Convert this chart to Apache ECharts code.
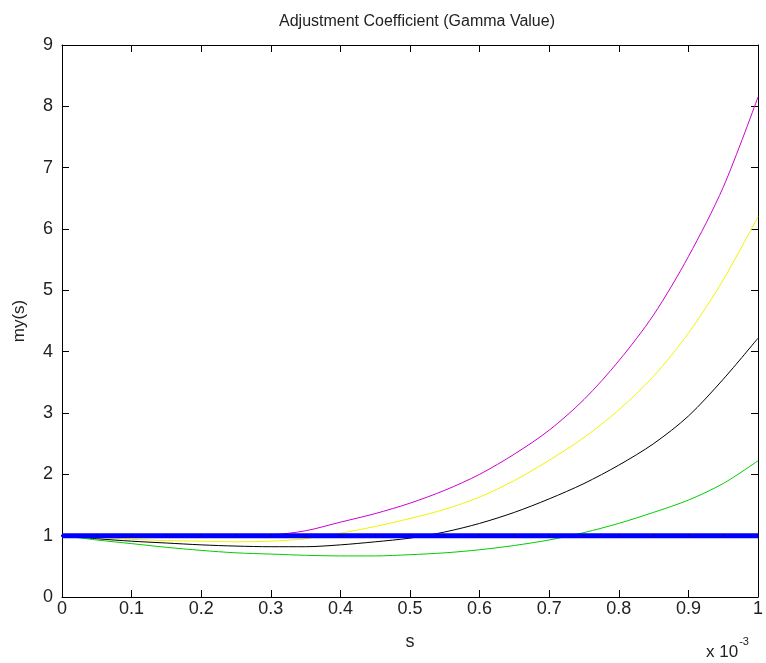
<!DOCTYPE html>
<html>
<head>
<meta charset="utf-8">
<script src="https://cdn.jsdelivr.net/npm/echarts@6/dist/echarts.min.js"></script>
<style>
  html, body { margin: 0; padding: 0; background: #fff; }
  #main { width: 766px; height: 663px; }
</style>
</head>
<body>
<div id="main"></div>
<script>
// s values (units of 1e-3)
var sVals = [0, 0.05, 0.1, 0.15, 0.2, 0.25, 0.3, 0.35, 0.4, 0.45, 0.5,
             0.55, 0.6, 0.65, 0.7, 0.75, 0.8, 0.85, 0.9, 0.95, 1.0];
var magenta = [1.0, 1.0, 0.99, 0.98, 0.98, 0.99, 1.01, 1.08, 1.22, 1.36, 1.53,
               1.74, 2.0, 2.33, 2.72, 3.22, 3.85, 4.6, 5.55, 6.68, 8.15];
var yellow = [1.0, 0.97, 0.94, 0.92, 0.91, 0.90, 0.91, 0.95, 1.04, 1.15, 1.28,
              1.43, 1.63, 1.9, 2.23, 2.6, 3.05, 3.6, 4.3, 5.17, 6.2];
var black = [1.0, 0.95, 0.91, 0.88, 0.85, 0.83, 0.82, 0.82, 0.85, 0.90, 0.96,
             1.06, 1.2, 1.38, 1.6, 1.85, 2.15, 2.5, 2.95, 3.55, 4.22];
var green = [1.0, 0.93, 0.87, 0.81, 0.76, 0.72, 0.70, 0.68, 0.67, 0.67, 0.69,
             0.72, 0.77, 0.84, 0.93, 1.05, 1.2, 1.38, 1.58, 1.85, 2.22];
var blue = [1, 1, 1, 1, 1, 1, 1, 1, 1, 1, 1, 1, 1, 1, 1, 1, 1, 1, 1, 1, 1];

var xTickLabels = ['0', '0.1', '0.2', '0.3', '0.4', '0.5', '0.6', '0.7', '0.8', '0.9', '1'];
var yTickLabels = ['0', '1', '2', '3', '4', '5', '6', '7', '8', '9'];

function pairs(ys) {
  return sVals.map(function (s, i) { return [s, ys[i]]; });
}

var font = 'Liberation Sans, Arial, sans-serif';
var chart = echarts.init(document.getElementById('main'));

var baseX = {
  type: 'value', min: 0, max: 1, interval: 0.1,
  axisLine: { show: true, onZero: false, lineStyle: { color: '#000', width: 1 } },
  axisTick: { show: true, inside: true, length: 7, lineStyle: { color: '#000' } },
  splitLine: { show: false }
};
var baseY = {
  type: 'value', min: 0, max: 9, interval: 1,
  axisLine: { show: true, onZero: false, lineStyle: { color: '#000', width: 1 } },
  axisTick: { show: true, inside: true, length: 7, lineStyle: { color: '#000' } },
  splitLine: { show: false }
};

function line(data, color, width) {
  return {
    type: 'line', data: pairs(data), showSymbol: false, symbol: 'none',
    smooth: 0.3,
    lineStyle: { color: color, width: width || 1 }, silent: true, animation: false
  };
}

chart.setOption({
  animation: false,
  title: {
    text: 'Adjustment Coefficient (Gamma Value)',
    left: 412, top: 9, textAlign: 'center',
    textStyle: { fontFamily: font, fontSize: 16, fontWeight: 'normal', color: '#222' }
  },
  grid: { left: 62, right: 3, top: 45, bottom: 66 },
  xAxis: [
    Object.assign({}, baseX, {
      position: 'bottom',
      name: 's', nameLocation: 'middle', nameGap: 36,
      nameTextStyle: { fontFamily: font, fontSize: 18, color: '#222' },
      axisLabel: {
        fontFamily: font, fontSize: 18, color: '#222', margin: 3,
        formatter: function (v) { return xTickLabels[Math.round(v * 10)]; }
      }
    }),
    Object.assign({}, baseX, { position: 'top', axisLabel: { show: false } })
  ],
  yAxis: [
    Object.assign({}, baseY, {
      position: 'left',
      name: 'my(s)', nameLocation: 'middle', nameGap: 34,
      nameTextStyle: { fontFamily: font, fontSize: 17, color: '#222' },
      axisLabel: {
        fontFamily: font, fontSize: 18, color: '#222', margin: 9,
        formatter: function (v) { return yTickLabels[Math.round(v)]; }
      }
    }),
    Object.assign({}, baseY, { position: 'right', axisLabel: { show: false } })
  ],
  graphic: [{
    type: 'text', left: 706, top: 636,
    style: {
      text: '{a|x 10}{b|-3}',
      rich: {
        a: { fontFamily: font, fontSize: 17, fill: '#222', padding: [8, 0, 0, 0] },
        b: { fontFamily: font, fontSize: 11, fill: '#222', verticalAlign: 'top', padding: [0, 0, 10, 1] }
      }
    }
  }],
  series: [
    line(magenta, '#cc00cc'),
    line(yellow, '#f2f200'),
    line(black, '#000000'),
    line(green, '#00cc00'),
    Object.assign(line(blue, '#0000ff', 5), {
      smooth: false,
      showSymbol: true, symbol: 'rect', symbolSize: [2, 2],
      itemStyle: { color: '#0000aa' }
    })
  ]
});
</script>
</body>
</html>
